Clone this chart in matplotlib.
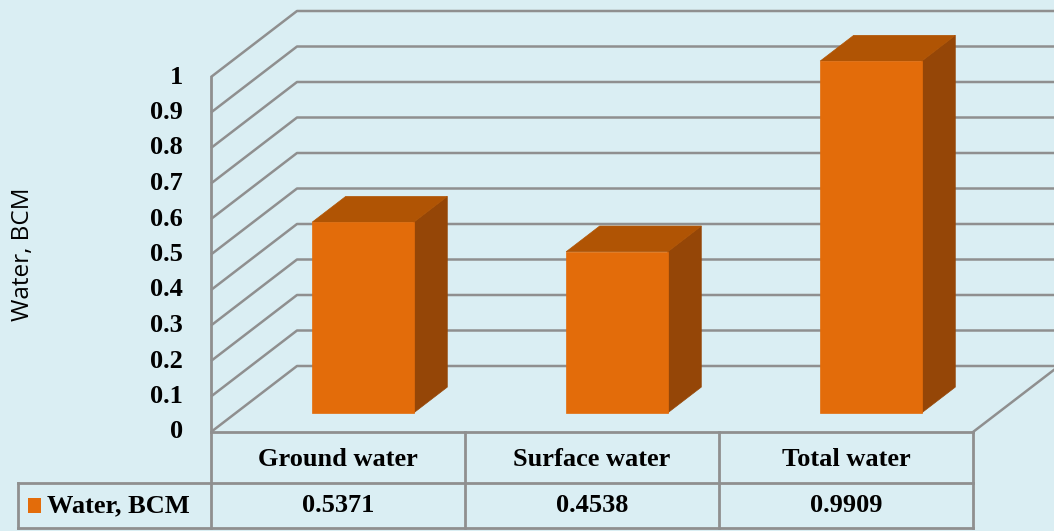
import matplotlib
matplotlib.use("Agg")
import matplotlib.pyplot as plt
from matplotlib.patches import Polygon, Rectangle

# ---- data ----
categories = ["Ground water", "Surface water", "Total water"]
values = [0.5371, 0.4538, 0.9909]
value_labels = ["0.5371", "0.4538", "0.9909"]
series_name = "Water, BCM"
yticks = [0, 0.1, 0.2, 0.3, 0.4, 0.5, 0.6, 0.7, 0.8, 0.9, 1.0]
ytick_labels = ["0", "0.1", "0.2", "0.3", "0.4", "0.5", "0.6", "0.7", "0.8", "0.9", "1"]

# ---- style ----
BG = "#DAEEF3"
FRONT = "#E36C0A"
TOP = "#B05404"
SIDE = "#954607"
GRID = "#8F8F8F"
SERIF = "Liberation Serif"

W, H = 1054, 531
fig = plt.figure(figsize=(W / 100, H / 100), dpi=100, facecolor=BG)
ax = fig.add_axes([0, 0, 1, 1])
ax.set_facecolor(BG)
ax.axis("off")

# layout (pixels -> data units)
X0_PX = 211        # left edge of front plane
CAT_PX = 254       # width of one category
Y0_PX = 432        # zero line (from top)
UNIT_PX = 355      # pixels per 1.0 value
ax.set_xlim(-0.5 - X0_PX / CAT_PX, -0.5 + (W - X0_PX) / CAT_PX)
ax.set_ylim(-(H - Y0_PX) / UNIT_PX, Y0_PX / UNIT_PX)

DX = 86 / CAT_PX    # full depth offset, x
DY = 66 / UNIT_PX   # full depth offset, y
n = len(categories)
xl, xr = -0.5, n - 0.5
vmax = yticks[-1]

# walls / gridlines
for v in yticks:
    ax.plot([xl, xl + DX, xr + DX], [v, v + DY, v + DY], color=GRID, lw=1.8,
            solid_capstyle="butt", zorder=1)
ax.plot([xl, xl], [0, vmax], color=GRID, lw=2, zorder=1)
ax.plot([xr, xr + DX], [0, DY], color=GRID, lw=1.8, zorder=1)

# tick labels
for v, lab in zip(yticks, ytick_labels):
    ax.text(xl - 28 / CAT_PX, v, lab, ha="right", va="center", family=SERIF,
            fontweight="bold", fontsize=19, color="black")

ax.text(-0.5 - (X0_PX - 23) / CAT_PX, (Y0_PX - 254) / UNIT_PX, series_name,
        rotation=90, ha="center", va="center", family="Open Sans", fontsize=17.5)

# bars
z0, z1 = 0.29, 0.68
hw = 0.2
for i, v in enumerate(values):
    a = i - hw
    b = i + hw
    fx, fy = z0 * DX, z0 * DY
    bx, by = z1 * DX, z1 * DY
    side = Polygon([(b + fx, fy), (b + bx, by), (b + bx, v + by), (b + fx, v + fy)],
                   closed=True, facecolor=SIDE, edgecolor=SIDE, lw=0.5, zorder=3)
    top = Polygon([(a + fx, v + fy), (a + bx, v + by), (b + bx, v + by), (b + fx, v + fy)],
                  closed=True, facecolor=TOP, edgecolor=TOP, lw=0.5, zorder=3)
    front = Rectangle((a + fx, fy), b - a, v, facecolor=FRONT, edgecolor=FRONT,
                      lw=0.5, zorder=4)
    ax.add_patch(side)
    ax.add_patch(top)
    ax.add_patch(front)

# data table
r1 = -(483 - Y0_PX) / UNIT_PX
r2 = -(528 - Y0_PX) / UNIT_PX
leg_l = -0.5 - (X0_PX - 18) / CAT_PX
tk = dict(color=GRID, lw=2, zorder=2, solid_capstyle="projecting")
ax.plot([xl, xr], [0, 0], **tk)
ax.plot([leg_l, xr], [r1, r1], **tk)
ax.plot([leg_l, xr], [r2, r2], **tk)
ax.plot([leg_l, leg_l], [r1, r2], **tk)
ax.plot([xl, xl], [0, r2], **tk)
for k in range(1, n + 1):
    ax.plot([k - 0.5, k - 0.5], [0, r2], **tk)

for i, (c, lab) in enumerate(zip(categories, value_labels)):
    ax.text(i, r1 / 2 - 2 / UNIT_PX, c, ha="center", va="center", family=SERIF,
            fontweight="bold", fontsize=19)
    ax.text(i, (r1 + r2) / 2, lab, ha="center", va="center", family=SERIF,
            fontweight="bold", fontsize=19)

# legend key in table
ax.add_patch(Rectangle((leg_l + 10 / CAT_PX, (r1 + r2) / 2 - 7.5 / UNIT_PX),
                       13 / CAT_PX, 15 / UNIT_PX, facecolor=FRONT, edgecolor="none", zorder=3))
ax.text(leg_l + 29 / CAT_PX, (r1 + r2) / 2, series_name, ha="left", va="center",
        family=SERIF, fontweight="bold", fontsize=19)

fig.savefig("out.png", dpi=100, facecolor=BG)
